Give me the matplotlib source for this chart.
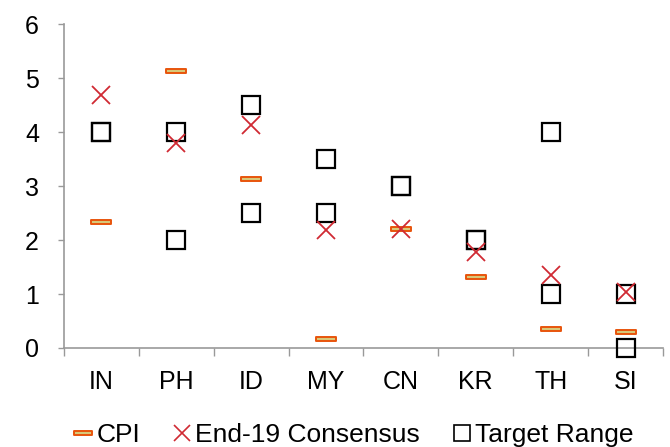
import matplotlib
matplotlib.use("Agg")
import matplotlib.pyplot as plt
import numpy as np
from matplotlib.path import Path
from matplotlib.lines import Line2D

plt.rcParams['font.family'] = ['Liberation Sans', 'DejaVu Sans']

categories = ["IN", "PH", "ID", "MY", "CN", "KR", "TH", "SI"]
cpi = [2.33, 5.13, 3.14, 0.17, 2.2, 1.32, 0.36, 0.29]
consensus = [4.69, 3.8, 4.13, 2.18, 2.2, 1.78, 1.36, 1.03]
target_upper = [4.0, 4.0, 4.5, 3.5, 3.0, 2.0, 4.0, 1.0]
target_lower = [4.0, 2.0, 2.5, 2.5, 3.0, 2.0, 1.0, 0.0]

fig = plt.figure(figsize=(6.7, 4.47), dpi=100)
ax = fig.add_axes([0.0955, 0.2215, 0.894, 0.7245])

x = np.arange(len(categories))
bar = Path([(-1, -0.22), (1, -0.22), (1, 0.22), (-1, 0.22), (-1, -0.22)],
           [Path.MOVETO, Path.LINETO, Path.LINETO, Path.LINETO, Path.CLOSEPOLY])

sq_kw = dict(marker='s', linestyle='none', markersize=13.5, markerfacecolor='none',
             markeredgecolor='black', markeredgewidth=1.6, clip_on=False, zorder=3)
ax.plot(x, target_upper, **sq_kw)
ax.plot(x, target_lower, **sq_kw)
ax.plot(x, cpi, marker=bar, linestyle='none', markersize=14.5,
        markerfacecolor='#D8C878', markeredgecolor='#E8540C', markeredgewidth=1.4,
        clip_on=False, zorder=4)
ax.plot(x, consensus, marker='x', linestyle='none', markersize=13.5,
        markeredgecolor='#D02A33', markeredgewidth=1.3, clip_on=False, zorder=5)

ax.set_xlim(-0.5, len(categories) - 0.5)
ax.set_ylim(0, 6)
ax.set_yticks(range(0, 7))
ax.set_xticks(x)
ax.set_xticklabels(categories)
ax.set_xticks(np.arange(-0.5, len(categories) + 0.5, 1), minor=True)
ax.tick_params(axis='x', which='major', length=0, pad=16, labelsize=18)
ax.tick_params(axis='x', which='minor', length=6, width=1, color='#999999')
ax.tick_params(axis='y', length=4, width=1, color='#999999', labelsize=18, pad=14)
for s in ['top', 'right']:
    ax.spines[s].set_visible(False)
for s in ['left', 'bottom']:
    ax.spines[s].set_color('#999999')
    ax.spines[s].set_linewidth(1.2)

handles = [
    Line2D([], [], marker=bar, linestyle='none', markersize=12.5,
           markerfacecolor='#D8C878', markeredgecolor='#E8540C', markeredgewidth=1.4),
    Line2D([], [], marker='x', linestyle='none', markersize=11.5,
           markeredgecolor='#D02A33', markeredgewidth=1.2),
    Line2D([], [], marker='s', linestyle='none', markersize=11,
           markerfacecolor='none', markeredgecolor='black', markeredgewidth=1.2),
]
fig.legend(handles, ["CPI", "End-19 Consensus", "Target Range"], loc='center',
           bbox_to_anchor=(0.528, 0.027), ncol=3, frameon=False, fontsize=19,
           handlelength=0.68, handletextpad=0.15, columnspacing=1.25,
           borderpad=0.2)

fig.savefig("out.png", dpi=100)
